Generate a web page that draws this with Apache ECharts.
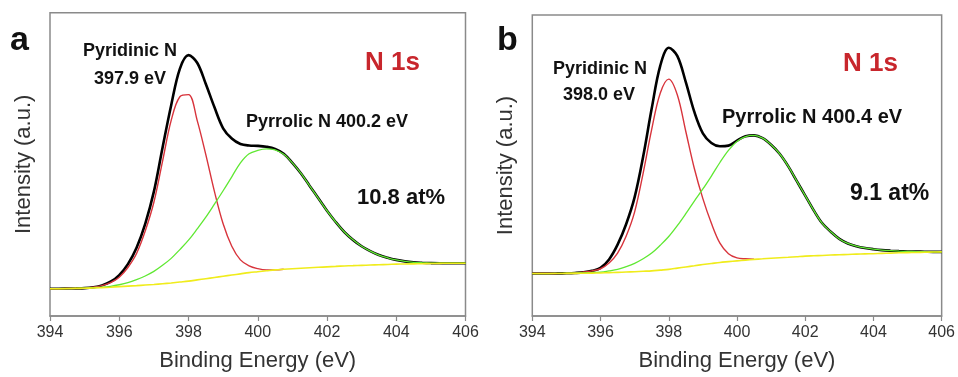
<!DOCTYPE html>
<html>
<head>
<meta charset="utf-8">
<script src="https://cdn.jsdelivr.net/npm/echarts@6/dist/echarts.min.js"></script>
<style>
html,body{margin:0;padding:0;background:#fff;}
#chart{width:958px;height:377px;}
</style>
</head>
<body>
<div id="chart"></div>
<script>
// Binding energy sample positions (eV)
const energy = [394, 394.25, 394.5, 394.75, 395, 395.25, 395.5, 395.75, 396, 396.25, 396.5, 396.75, 397, 397.25, 397.5, 397.75, 398, 398.25, 398.5, 398.75, 399, 399.25, 399.5, 399.75, 400, 400.25, 400.5, 400.75, 401, 401.25, 401.5, 401.75, 402, 402.25, 402.5, 402.75, 403, 403.25, 403.5, 403.75, 404, 404.25, 404.5, 404.75, 405, 405.25, 405.5, 405.75, 406];
const xTicks = [394, 396, 398, 400, 402, 404, 406];

// Panel a (intensity, arbitrary units)
const aBackground = [9.0, 9.0, 9.05, 9.1, 9.15, 9.25, 9.35, 9.5, 9.7, 9.85, 10.0, 10.2, 10.4, 10.65, 10.9, 11.2, 11.5, 11.9, 12.3, 12.7, 13.1, 13.5, 13.9, 14.3, 14.6, 14.9, 15.2, 15.4, 15.6, 15.75, 15.9, 16.05, 16.2, 16.35, 16.5, 16.6, 16.7, 16.8, 16.9, 17.0, 17.1, 17.15, 17.2, 17.25, 17.3, 17.35, 17.4, 17.4, 17.4];
const aPyridinic = [9.0, 9.0, 9.05, 9.1, 9.2, 9.5, 10.0, 11.0, 12.8, 16.0, 20.6, 28.0, 37.5, 51.0, 64.5, 72.3, 73.0, 64.5, 53.2, 41.0, 30.4, 23.0, 18.5, 16.5, 15.6, 15.2, 15.2, 15.4, null, null, null, null, null, null, null, null, null, null, null, null, null, null, null, null, null, null, null, null, null];
const aPyrrolic = [9.0, 9.0, 9.05, 9.1, 9.2, 9.35, 9.5, 9.8, 10.3, 11.0, 12.0, 13.2, 14.7, 16.7, 19.0, 21.9, 25.0, 28.7, 32.6, 36.9, 41.3, 45.9, 50.5, 53.5, 54.6, 55.1, 54.8, 53.3, 50.5, 47.0, 42.9, 38.8, 34.7, 31.0, 27.7, 25.1, 23.0, 21.4, 20.1, 19.2, 18.5, 18.0, 17.7, 17.55, 17.45, 17.4, 17.4, 17.4, 17.4];
const aEnvelope = [9.0, 9.0, 9.05, 9.1, 9.2, 9.5, 10.1, 11.3, 13.5, 17.1, 22.5, 30.4, 41.0, 55.5, 69.5, 81.5, 86.0, 83.5, 76.5, 68.8, 61.9, 58.5, 56.7, 56.2, 56.1, 55.8, 55.1, 53.5, 50.5, 47.0, 42.9, 38.8, 34.7, 31.0, 27.7, 25.1, 23.0, 21.4, 20.1, 19.2, 18.5, 18.0, 17.7, 17.55, 17.45, 17.4, 17.4, 17.4, 17.4];

// Panel b
const bBackground = [14.1, 14.1, 14.1, 14.1, 14.15, 14.15, 14.2, 14.25, 14.3, 14.4, 14.5, 14.6, 14.7, 14.85, 15.0, 15.25, 15.5, 15.9, 16.3, 16.7, 17.1, 17.45, 17.8, 18.05, 18.3, 18.55, 18.8, 19.0, 19.2, 19.35, 19.5, 19.7, 19.9, 20.0, 20.1, 20.25, 20.35, 20.45, 20.55, 20.65, 20.7, 20.8, 20.9, 21.0, 21.05, 21.1, 21.2, 21.25, 21.3];
const bPyridinic = [14.1, 14.1, 14.1, 14.15, 14.2, 14.3, 14.6, 15.0, 15.7, 17.6, 20.9, 26.5, 34.6, 47.5, 62.0, 74.0, 78.7, 73.5, 61.3, 49.0, 39.0, 30.8, 24.2, 20.7, 19.3, 19.0, 18.9, null, null, null, null, null, null, null, null, null, null, null, null, null, null, null, null, null, null, null, null, null, null];
const bPyrrolic = [14.1, 14.1, 14.1, 14.15, 14.2, 14.25, 14.35, 14.45, 14.6, 15.0, 15.5, 16.4, 17.5, 19.0, 20.9, 23.5, 26.4, 30.0, 34.0, 38.2, 42.2, 46.5, 51.0, 55.0, 58.0, 59.6, 60.0, 59.1, 56.9, 53.9, 49.8, 44.9, 40.0, 35.1, 30.8, 28.0, 25.6, 24.1, 23.2, 22.6, 22.2, 21.9, 21.7, 21.55, 21.45, 21.4, 21.35, 21.3, 21.3];
const bEnvelope = [14.1, 14.1, 14.1, 14.15, 14.2, 14.3, 14.5, 15.0, 16.0, 18.8, 23.7, 30.5, 39.5, 53.0, 68.9, 83.1, 89.1, 86.4, 77.7, 67.8, 60.7, 57.5, 56.4, 56.6, 58.3, 59.7, 60.0, 59.1, 56.9, 53.9, 49.8, 44.9, 40.0, 35.1, 30.8, 28.0, 25.6, 24.1, 23.2, 22.6, 22.2, 21.9, 21.7, 21.55, 21.45, 21.4, 21.35, 21.3, 21.3];

const FONT = '"Liberation Sans", Arial, Helvetica, sans-serif';
const pairs = (ys) => energy.map((e, i) => [e, ys[i]]);

const chart = echarts.init(document.getElementById('chart'), null, {renderer: 'canvas'});

function xAxisFor(gi) {
  return {
    type: 'value', gridIndex: gi, min: 394, max: 406, interval: 2,
    name: 'Binding Energy (eV)', nameLocation: 'middle', nameGap: 34,
    nameTextStyle: {fontFamily: FONT, fontSize: 22, color: '#333'},
    axisLine: {show: true, lineStyle: {color: '#8a8a8a', width: 1.5}},
    axisTick: {show: true, inside: false, length: 5, lineStyle: {color: '#8a8a8a', width: 1.2}},
    axisLabel: {fontFamily: FONT, fontSize: 16, color: '#333', margin: 9,
      formatter: (v) => xTicks.indexOf(v) >= 0 ? String(v) : ''},
    splitLine: {show: false}
  };
}
function yAxisFor(gi) {
  return {
    type: 'value', gridIndex: gi, min: 0, max: 100,
    name: 'Intensity (a.u.)', nameLocation: 'middle', nameGap: 15, nameRotate: 90,
    nameTextStyle: {fontFamily: FONT, fontSize: 22, color: '#333'},
    axisLine: {show: false}, axisTick: {show: false}, axisLabel: {show: false},
    splitLine: {show: false}
  };
}
function seriesFor(gi, env, pyd, pyr, bg) {
  const base = {type: 'line', xAxisIndex: gi, yAxisIndex: gi, smooth: 0.35, symbol: 'none', animation: false, connectNulls: false};
  return [
    Object.assign({}, base, {name: 'Envelope', data: pairs(env), lineStyle: {color: '#000000', width: 2.6}, z: 2}),
    Object.assign({}, base, {name: 'Pyridinic N', data: pairs(pyd), lineStyle: {color: '#d8343c', width: 1.4}, z: 3}),
    Object.assign({}, base, {name: 'Pyrrolic N', data: pairs(pyr), lineStyle: {color: '#5fe832', width: 1.3}, z: 4}),
    Object.assign({}, base, {name: 'Background', data: pairs(bg), lineStyle: {color: '#f0ec1c', width: 1.6}, z: 5})
  ];
}

function txt(x, y, s, size, color) {
  return {type: 'text', left: x, top: y - size * 0.35 - size / 2, silent: true,
    style: {text: s, font: 'bold ' + size + 'px ' + FONT, fill: color || '#111', verticalAlign: 'top'}};
}

const option = {
  backgroundColor: '#ffffff',
  animation: false,
  grid: [
    {left: 50, right: 492.5, top: 12.7, bottom: 57, show: true, borderColor: '#8a8a8a', borderWidth: 1.5, backgroundColor: 'transparent'},
    {left: 532.3, right: 14, top: 15, bottom: 56.3, show: true, borderColor: '#8a8a8a', borderWidth: 1.5, backgroundColor: 'transparent'}
  ],
  xAxis: [xAxisFor(0), xAxisFor(1)],
  yAxis: [yAxisFor(0), yAxisFor(1)],
  series: [].concat(
    seriesFor(0, aEnvelope, aPyridinic, aPyrrolic, aBackground),
    seriesFor(1, bEnvelope, bPyridinic, bPyrrolic, bBackground)
  ),
  graphic: [
    txt(10, 53, 'a', 34),
    txt(83, 57, 'Pyridinic N', 18),
    txt(94, 85, '397.9 eV', 18),
    txt(246, 128, 'Pyrrolic N 400.2 eV', 18),
    txt(365, 72, 'N 1s', 26, '#c8262c'),
    txt(357, 206, '10.8 at%', 22),
    txt(497, 53, 'b', 34),
    txt(553, 75, 'Pyridinic N', 18),
    txt(563, 101.7, '398.0 eV', 18),
    txt(722, 124, 'Pyrrolic N 400.4 eV', 20),
    txt(843, 73.3, 'N 1s', 26, '#c8262c'),
    txt(850, 201.7, '9.1 at%', 23)
  ]
};
chart.setOption(option);
</script>
</body>
</html>
